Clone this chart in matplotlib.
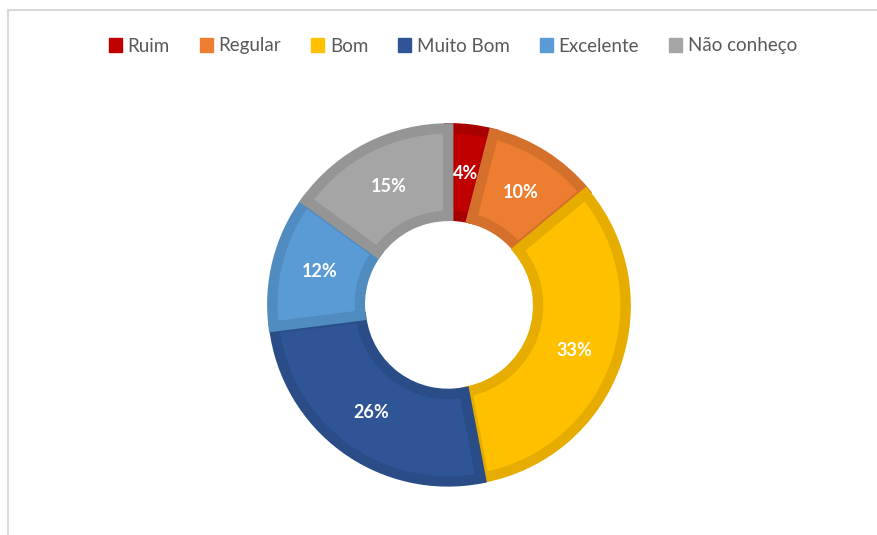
import matplotlib
matplotlib.use("Agg")
import matplotlib.pyplot as plt
from matplotlib.lines import Line2D
from matplotlib.patches import Patch
import numpy as np

categories = ["Ruim", "Regular", "Bom", "Muito Bom", "Excelente", "Não conheço"]
values = [4, 10, 33, 26, 12, 15]
labels = ["4%", "10%", "33%", "26%", "12%", "15%"]
colors = ["#C00000", "#ED7D31", "#FFC000", "#2F5597", "#5B9BD5", "#A5A5A5"]
edges = ["#A80000", "#D4702B", "#E6AC00", "#2A4D88", "#518CC0", "#959595"]

plt.rcParams['font.family'] = ['Lato', 'DejaVu Sans']

W, H = 877, 535
fig = plt.figure(figsize=(W / 100, H / 100), dpi=100)
fig.patch.set_facecolor("white")

cx, cy, R = 449, 305, 175
half = 200
ax = fig.add_axes([(cx - half) / W, (H - cy - half) / H, 2 * half / W, 2 * half / H])

wedges, _ = ax.pie(values, colors=colors, startangle=90, counterclock=False,
                   radius=1.0, explode=[0.01] * len(values),
                   wedgeprops=dict(width=0.5, linewidth=0))
ax.set_xlim(-half / R, half / R)
ax.set_ylim(-half / R, half / R)
ax.set_aspect("equal")
ax.axis("off")

for w, ec in zip(wedges, edges):
    w.set_edgecolor(ec)
    w.set_linewidth(7.5)
    w.set_joinstyle("miter")
    w.set_clip_path(w)

total = sum(values)
ang = 90.0
for v, lab in zip(values, labels):
    theta = np.deg2rad(ang - v / total * 360 / 2)
    ang -= v / total * 360
    r = 0.76
    ax.text(r * np.cos(theta), r * np.sin(theta), lab, ha="center", va="center",
            color="white", fontsize=13, fontweight="bold")

handles = [Patch(facecolor=c, edgecolor=c) for c in colors]
leg = fig.legend(handles, categories, loc="center", bbox_to_anchor=(453 / W, 1 - 46 / H),
                 ncol=6, frameon=False, fontsize=13.5, handlelength=0.7, handleheight=0.7,
                 handletextpad=0.3, columnspacing=1.6, labelcolor="#595959")

fig.add_artist(Line2D([7.5 / W, 7.5 / W], [0, 1 - 10 / H], transform=fig.transFigure,
                      color="#D9D9D9", lw=1.5))
fig.add_artist(Line2D([7.5 / W, 1], [1 - 10 / H, 1 - 10 / H], transform=fig.transFigure,
                      color="#D9D9D9", lw=1.5))

fig.savefig("out.png", dpi=100, facecolor="white")
